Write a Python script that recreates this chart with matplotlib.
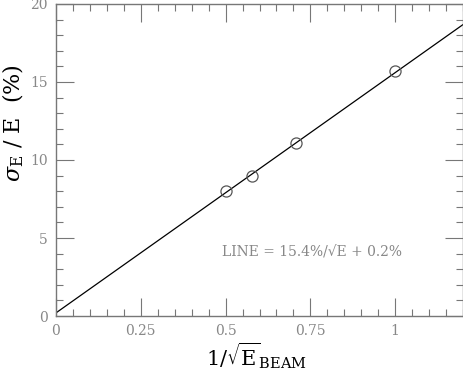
import matplotlib
matplotlib.use("Agg")
import matplotlib.pyplot as plt
from matplotlib.ticker import MultipleLocator

# measured points
inv_sqrt_e = [0.5, 0.577, 0.707, 1.0]
resolution = [8.0, 9.0, 11.1, 15.7]

# fitted line: 15.4%/sqrt(E) + 0.2%
slope = 15.4
offset = 0.2
line_x = [0.0, 1.2]
line_y = [offset + slope * v for v in line_x]

plt.rcParams['font.family'] = ['DejaVu Serif']
plt.rcParams['mathtext.fontset'] = 'dejavuserif'

fig = plt.figure(figsize=(4.64, 3.70), dpi=100)
ax = fig.add_axes([56/464, 54/370, 407/464, 312/370])

ax.plot(line_x, line_y, color='black', lw=0.9)
ax.plot(inv_sqrt_e, resolution, 'o', ms=8, mfc='none', mec='#555555', mew=0.9)

ax.set_xlim(0, 1.2)
ax.set_ylim(0, 20)
ax.xaxis.set_major_locator(MultipleLocator(0.25))
ax.xaxis.set_minor_locator(MultipleLocator(0.05))
ax.yaxis.set_major_locator(MultipleLocator(5))
ax.yaxis.set_minor_locator(MultipleLocator(1))
ax.set_xticks([0, 0.25, 0.5, 0.75, 1])
ax.set_xticklabels(['0', '0.25', '0.5', '0.75', '1'])
ax.tick_params(which='both', direction='in', top=True, right=True,
               color='#777777', labelcolor='#888888', labelsize=10)
ax.tick_params(which='major', length=13, width=0.8, pad=6)
ax.tick_params(which='minor', length=5, width=0.8)
for s in ax.spines.values():
    s.set_color('#777777')
    s.set_linewidth(1.0)

ax.text(0.488, 4.1, 'LINE = 15.4%/\u221aE + 0.2%', color='#888888',
        fontsize=10, va='center', ha='left')

# axis titles placed by hand so they stay inside the figure
fig.text(256/464, 1 - 356/370, r'$1/\sqrt{\mathrm{E}}_{\mathrm{BEAM}}$',
         fontsize=15, ha='center', va='center')
fig.text(13/464, 1 - 123/370, r'$\sigma_{\mathrm{E}}\ /\ \mathrm{E}\ \ (\%)$',
         fontsize=16, ha='center', va='center', rotation=90)

fig.savefig('out.png', dpi=100)
